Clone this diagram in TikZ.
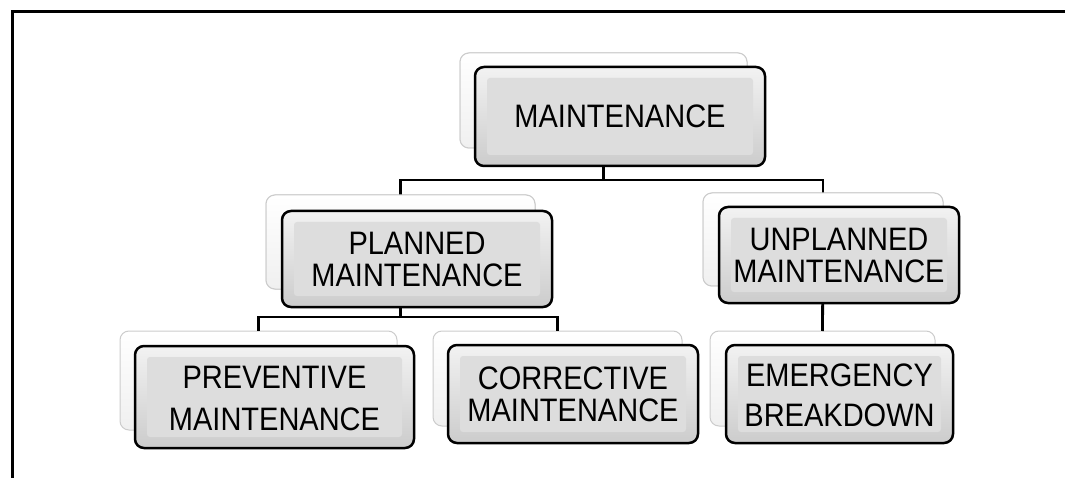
\documentclass[tikz,border=0pt]{standalone}
\usepackage{graphicx}
\usepackage{fontspec}
\setmainfont{Liberation Sans}
\newcommand\boxtext[2]{\raisebox{-4.5pt}[\height][\depth]{\scalebox{1}[1.12]{\fontsize{29}{#1}\selectfont\begin{tabular}{@{}c@{}}#2\end{tabular}}}}
\begin{document}
\begin{tikzpicture}[x=1pt,y=-1pt,
  backbox/.style={draw=gray!40, line width=1pt, rounded corners=9pt, top color=white, bottom color=gray!12, inner sep=0pt, outer sep=0pt},
  frontbox/.style={draw=black, line width=2.5pt, rounded corners=9pt, top color=gray!10, bottom color=gray!40, inner sep=0pt, outer sep=0pt, align=center, text=black,
    path picture={\fill[gray!27, rounded corners=3pt] ([shift={(12pt,-11pt)}]path picture bounding box.north west) rectangle ([shift={(-12pt,11pt)}]path picture bounding box.south east);}},
  conn/.style={draw=black, line width=2.8pt}]
\useasboundingbox (0,0) rectangle (1065,478);
\fill[white] (0,0) rectangle (1065,478);
% outer frame
\draw[line width=3pt] (1075,12) -- (12,12) -- (12,490);
% back boxes
\node[backbox, minimum width=287pt, minimum height=95pt] (mB) at (603.5,100.5) {};
\node[backbox, minimum width=269pt, minimum height=94pt] (pB) at (400.5,242) {};
\node[backbox, minimum width=240pt, minimum height=93pt] (uB) at (823,239.5) {};
\node[backbox, minimum width=277pt, minimum height=99pt] (prB) at (258.5,380.5) {};
\node[backbox, minimum width=249pt, minimum height=95pt] (cB) at (557.5,378.5) {};
\node[backbox, minimum width=225pt, minimum height=95pt] (eB) at (822.5,378.5) {};
% connectors
\draw[conn] (mB.center) -- (mB.center |- 0,180) -| (pB.north);
\draw[conn] (mB.center |- 0,180) -| (uB.north);
\draw[conn] (pB.center) -- (pB.center |- 0,317) -| (prB.north);
\draw[conn] (pB.center |- 0,317) -| (cB.north);
\draw[conn] (uB.center) -- (eB.north);
% redraw back boxes over connector stems
\node[backbox, minimum width=287pt, minimum height=95pt] at (603.5,100.5) {};
\node[backbox, minimum width=269pt, minimum height=94pt] at (400.5,242) {};
\node[backbox, minimum width=240pt, minimum height=93pt] at (823,239.5) {};
% front boxes
\node[frontbox, minimum width=290pt, minimum height=99pt] (m) at (620,116.5) {\boxtext{30}{MAINTENANCE}};
\node[frontbox, minimum width=270pt, minimum height=96pt] (p) at (417,259) {\boxtext{27}{PLANNED\\MAINTENANCE}};
\node[frontbox, minimum width=240pt, minimum height=96pt] (u) at (839,255) {\boxtext{27}{UNPLANNED\\MAINTENANCE}};
\node[frontbox, minimum width=279pt, minimum height=102pt] (pr) at (274.5,397) {\boxtext{37.5}{PREVENTIVE\\MAINTENANCE}};
\node[frontbox, minimum width=250pt, minimum height=98pt] (c) at (573,394) {\boxtext{26}{CORRECTIVE\\MAINTENANCE}};
\node[frontbox, minimum width=227pt, minimum height=98pt] (e) at (839.5,394) {\boxtext{36}{EMERGENCY\\BREAKDOWN}};
\end{tikzpicture}
\end{document}
